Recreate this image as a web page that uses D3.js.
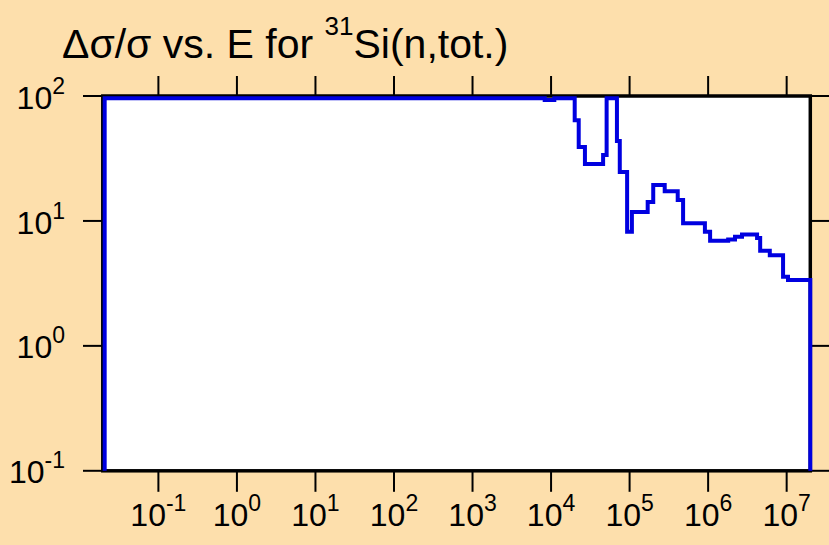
<!DOCTYPE html>
<html lang="en">
<head>
<meta charset="UTF-8">
<title>Si-31 total uncertainty</title>
<script src="https://d3js.org/d3.v7.min.js"></script>
<style>
  body { margin: 0; background: #fddfac; }
  text { font-family: "Liberation Sans", Arial, sans-serif; fill: #000; }
</style>
</head>
<body>
<script>
var width = 829, height = 545;

// step start energies (eV) and relative uncertainty (%) of each step
var energies = [0.0207, 8.3e3, 1.1e4, 2.0e4, 2.25e4, 2.7e4, 4.6e4, 5.1e4, 6.9e4, 7.5e4,
  9.3e4, 1.07e5, 1.7e5, 2.0e5, 2.8e5, 4.1e5, 4.8e5, 9.1e5, 1.06e6, 1.8e6,
  2.2e6, 2.7e6, 4.2e6, 4.6e6, 6.1e6, 9.0e6, 1.04e7];
var uncert = [96, 93, 96, 64, 39, 28.5, 33.7, 96, 43.6, 24.6,
  8.2, 11.8, 14.2, 19.4, 17.3, 14.7, 9.6, 8.2, 6.93, 7.1,
  7.46, 7.8, 7.3, 5.77, 5.32, 3.57, 3.36];
var eEnd = 2e7;

var xTicks = [1e-1, 1e0, 1e1, 1e2, 1e3, 1e4, 1e5, 1e6, 1e7];
var yTicks = [1e-1, 1e0, 1e1, 1e2];

var plotL = 102.8, plotR = 810.3, plotT = 96, plotB = 470.8;

var svg = d3.select('body').append('svg').attr('width', width).attr('height', height);

var x = d3.scaleLog().domain([0.02, 2e7]).range([plotL + 0.7, plotR]);
var y = d3.scaleLog().domain([0.1, 100]).range([plotB, plotT]);

// title
var title = svg.append('text').attr('x', 62).attr('y', 58).style('font-size', '41px');
title.append('tspan').text('\u0394\u03c3/\u03c3 vs. E for ');
title.append('tspan').attr('dy', -23).style('font-size', '26px').text('31');
title.append('tspan').attr('dy', 23).text('Si(n,tot.)');

// plot frame
svg.append('rect')
  .attr('x', plotL).attr('y', plotT).attr('width', plotR - plotL).attr('height', plotB - plotT)
  .attr('fill', '#fff').attr('stroke', '#000').attr('stroke-width', 3.5);

// ticks
svg.selectAll('.xt-top').data(xTicks).join('line')
  .attr('x1', d => x(d)).attr('x2', d => x(d)).attr('y1', plotT).attr('y2', plotT - 20)
  .attr('stroke', '#000').attr('stroke-width', 2);
svg.selectAll('.xt-bot').data(xTicks).join('line')
  .attr('x1', d => x(d)).attr('x2', d => x(d)).attr('y1', plotB).attr('y2', plotB + 21)
  .attr('stroke', '#000').attr('stroke-width', 2);
svg.selectAll('.yt-left').data(yTicks).join('line')
  .attr('x1', plotL).attr('x2', 83).attr('y1', d => y(d)).attr('y2', d => y(d))
  .attr('stroke', '#000').attr('stroke-width', 2);
svg.selectAll('.yt-right').data(yTicks).join('line')
  .attr('x1', plotR).attr('x2', width).attr('y1', d => y(d)).attr('y2', d => y(d))
  .attr('stroke', '#000').attr('stroke-width', 2);

// tick labels
var xl = svg.selectAll('.xl').data(xTicks).join('text')
  .attr('x', d => x(d)).attr('y', 526).attr('text-anchor', 'middle')
  .style('font-size', '32px');
xl.append('tspan').text('10');
xl.append('tspan').attr('dy', -15).style('font-size', '23px').text(d => Math.round(Math.log10(d)));

var yl = svg.selectAll('.yl').data(yTicks).join('text')
  .attr('x', 65).attr('y', d => y(d) + 12.6).attr('text-anchor', 'end')
  .style('font-size', '32px');
yl.append('tspan').text('10');
yl.append('tspan').attr('dy', -15).style('font-size', '23px').text(d => Math.round(Math.log10(d)));

// data as a step line, dropping to the axis at both ends
var pts = [[energies[0], 0.1]];
energies.forEach(function (e, i) { pts.push([e, uncert[i]]); });
pts.push([eEnd, uncert[uncert.length - 1]]);
pts.push([eEnd, 0.1]);

var line = d3.line()
  .x(d => x(d[0]))
  .y(d => y(d[1]))
  .curve(d3.curveStepAfter);

svg.append('path').datum(pts)
  .attr('d', line)
  .attr('fill', 'none')
  .attr('stroke', '#0000e0')
  .attr('stroke-width', 4);
</script>
</body>
</html>
